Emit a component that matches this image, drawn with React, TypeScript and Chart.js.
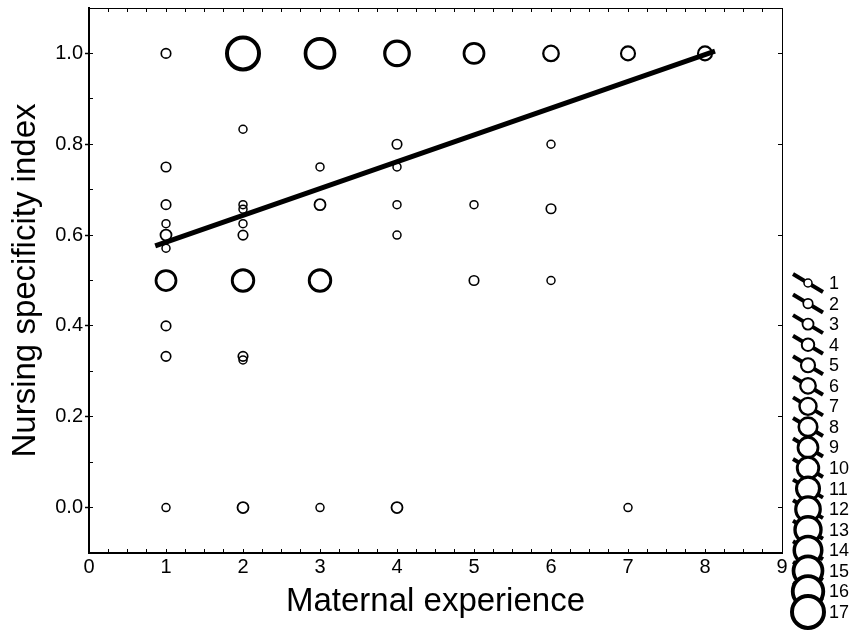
import React, { useEffect, useRef } from 'react';
import { Chart, registerables } from 'chart.js';

Chart.register(...registerables);

// ---- data ----
const xTickValues = [0, 1, 2, 3, 4, 5, 6, 7, 8, 9];
const yTickValues = [0, 0.2, 0.4, 0.6, 0.8, 1.0];

const experience = [
  1, 1, 1, 1, 1, 1, 1, 1, 1, 1,
  2, 2, 2, 2, 2, 2, 2, 2, 2, 2,
  3, 3, 3, 3, 3,
  4, 4, 4, 4, 4, 4,
  5, 5, 5,
  6, 6, 6, 6,
  7, 7,
  8,
];
const specificity = [
  1.0, 0.75, 0.667, 0.625, 0.6, 0.571, 0.5, 0.4, 0.333, 0.0,
  1.0, 0.833, 0.667, 0.657, 0.625, 0.6, 0.5, 0.333, 0.325, 0.0,
  1.0, 0.75, 0.667, 0.5, 0.0,
  1.0, 0.8, 0.75, 0.667, 0.6, 0.0,
  1.0, 0.667, 0.5,
  1.0, 0.8, 0.658, 0.5,
  1.0, 0.0,
  1.0,
];
const counts = [
  2, 2, 2, 1, 3, 1, 9, 2, 2, 1,
  17, 1, 1, 1, 1, 2, 10, 2, 1, 3,
  15, 1, 3, 10, 1,
  12, 2, 1, 1, 1, 3,
  9, 1, 2,
  6, 1, 2, 1,
  5, 1,
  5,
];

const fitX = [0.86, 8.13];
const fitY = [0.576, 1.005];

const legendCounts = [1, 2, 3, 4, 5, 6, 7, 8, 9, 10, 11, 12, 13, 14, 15, 16, 17];

// ---- styling helpers ----
const FAMILY = '"Liberation Sans", Arial, sans-serif';
const radiusFor = (n: number) => 4 + 0.75 * (n - 1);
const widthFor = (n: number) => 1.5 + (2.5 * (n - 1)) / 16;

const sizeLegend = {
  id: 'sizeLegend',
  afterDraw(chart: any) {
    const ctx = chart.ctx as CanvasRenderingContext2D;
    const cx = chart.chartArea.right + 26;
    const y0 = 283;
    const step = 20.56;
    ctx.save();
    legendCounts.forEach((n, i) => {
      const cy = y0 + i * step;
      ctx.beginPath();
      ctx.moveTo(cx - 15, cy - 9);
      ctx.lineTo(cx + 15, cy + 9);
      ctx.lineWidth = 4;
      ctx.strokeStyle = '#000';
      ctx.stroke();
      ctx.beginPath();
      ctx.arc(cx, cy, radiusFor(n), 0, Math.PI * 2);
      ctx.fillStyle = '#fff';
      ctx.fill();
      ctx.lineWidth = widthFor(n);
      ctx.stroke();
      ctx.fillStyle = '#000';
      ctx.font = `18px ${FAMILY}`;
      ctx.textAlign = 'left';
      ctx.textBaseline = 'middle';
      ctx.fillText(String(n), cx + 21, cy + 1);
    });
    ctx.restore();
  },
};

export default function App() {
  const ref = useRef<HTMLCanvasElement | null>(null);

  useEffect(() => {
    if (!ref.current) return;
    Chart.defaults.font.family = FAMILY;
    const points = experience.map((x, i) => ({ x, y: specificity[i] }));
    const fit = fitX.map((x, i) => ({ x, y: fitY[i] }));

    const zeroW = (s: any) => {
      s.width = 0;
      s.paddingTop = 0;
      s.paddingBottom = 0;
    };
    const zeroH = (s: any) => {
      s.height = 0;
      s.paddingLeft = 0;
      s.paddingRight = 0;
    };

    const chart = new Chart(ref.current, {
      type: 'scatter',
      data: {
        datasets: [
          {
            type: 'line',
            data: fit,
            borderColor: '#000',
            borderWidth: 5,
            pointRadius: 0,
            borderCapStyle: 'butt',
            fill: false,
            order: 0,
          } as any,
          {
            type: 'scatter',
            data: points,
            pointRadius: (c: any) => radiusFor(counts[c.dataIndex]),
            pointBorderWidth: (c: any) => widthFor(counts[c.dataIndex]),
            pointBackgroundColor: 'rgba(0,0,0,0)',
            pointBorderColor: '#000',
            order: 1,
          } as any,
        ],
      },
      options: {
        responsive: false,
        animation: false,
        events: [],
        layout: { autoPadding: false, padding: { top: 8, right: 74, left: 0, bottom: 0 } },
        plugins: { legend: { display: false }, tooltip: { enabled: false } },
        scales: {
          x: {
            type: 'linear',
            axis: 'x',
            position: 'bottom',
            weight: 1,
            min: 0,
            max: 9,
            afterBuildTicks: (s: any) => {
              s.ticks = xTickValues.map((v) => ({ value: v }));
            },
            afterFit: (s: any) => {
              s.height = 81;
              s.paddingLeft = 0;
              s.paddingRight = 0;
            },
            ticks: {
              font: { size: 20, family: FAMILY },
              color: '#000',
              padding: 2,
              maxRotation: 0,
              autoSkip: false,
              callback: (v: any) => String(v),
            },
            grid: { drawOnChartArea: false, drawTicks: false, tickLength: 0 },
            border: { display: true, color: '#000', width: 2 },
            title: {
              display: true,
              text: 'Maternal experience',
              color: '#000',
              font: { size: 33, family: FAMILY },
              padding: { top: 0, bottom: 12 },
            },
          },
          xMinor: {
            type: 'linear',
            axis: 'x',
            position: 'bottom',
            weight: 0,
            min: 0,
            max: 9,
            afterFit: zeroH,
            ticks: { display: false, stepSize: 0.25 },
            grid: {
              drawOnChartArea: false,
              drawTicks: true,
              tickLength: -4,
              tickColor: '#000',
              tickWidth: 1,
            },
            border: { display: false },
          },
          xTop: {
            type: 'linear',
            axis: 'x',
            position: 'top',
            min: 0,
            max: 9,
            afterFit: zeroH,
            ticks: { display: false, stepSize: 0.25 },
            grid: {
              drawOnChartArea: false,
              drawTicks: true,
              tickLength: -4,
              tickColor: '#000',
              tickWidth: 1,
            },
            border: { display: true, color: '#000', width: 1 },
          },
          y: {
            type: 'linear',
            axis: 'y',
            position: 'left',
            weight: 1,
            min: -0.1,
            max: 1.1,
            afterBuildTicks: (s: any) => {
              s.ticks = yTickValues.map((v) => ({ value: v }));
            },
            afterFit: (s: any) => {
              s.width = 89;
              s.paddingTop = 0;
              s.paddingBottom = 0;
            },
            ticks: {
              font: { size: 20, family: FAMILY },
              color: '#000',
              padding: 2,
              autoSkip: false,
              callback: (v: any) => Number(v).toFixed(1),
            },
            grid: {
              drawOnChartArea: false,
              drawTicks: true,
              tickLength: 4,
              tickColor: '#000',
              tickWidth: 1.5,
            },
            border: { display: true, color: '#000', width: 2 },
            title: {
              display: true,
              text: 'Nursing specificity index',
              color: '#000',
              font: { size: 33, family: FAMILY },
              padding: { top: 6, bottom: 0 },
            },
          },
          yMinor: {
            type: 'linear',
            axis: 'y',
            position: 'left',
            weight: 0,
            min: -0.1,
            max: 1.1,
            afterFit: zeroW,
            ticks: { display: false, stepSize: 0.1 },
            grid: {
              drawOnChartArea: false,
              drawTicks: true,
              tickLength: -4,
              tickColor: '#000',
              tickWidth: 1,
            },
            border: { display: false },
          },
          yRight: {
            type: 'linear',
            axis: 'y',
            position: 'right',
            min: -0.1,
            max: 1.1,
            afterBuildTicks: (s: any) => {
              s.ticks = yTickValues.map((v) => ({ value: v }));
            },
            afterFit: zeroW,
            ticks: { display: false },
            grid: {
              drawOnChartArea: false,
              drawTicks: true,
              tickLength: -4,
              tickColor: '#000',
              tickWidth: 1,
            },
            border: { display: true, color: '#000', width: 1 },
          },
        },
      } as any,
      plugins: [sizeLegend as any],
    });

    return () => chart.destroy();
  }, []);

  return (
    <div style={{ position: 'absolute', left: 0, top: 0, width: 856, height: 634, background: '#fff' }}>
      <canvas ref={ref} width={856} height={634} style={{ display: 'block', width: 856, height: 634 }} />
    </div>
  );
}
